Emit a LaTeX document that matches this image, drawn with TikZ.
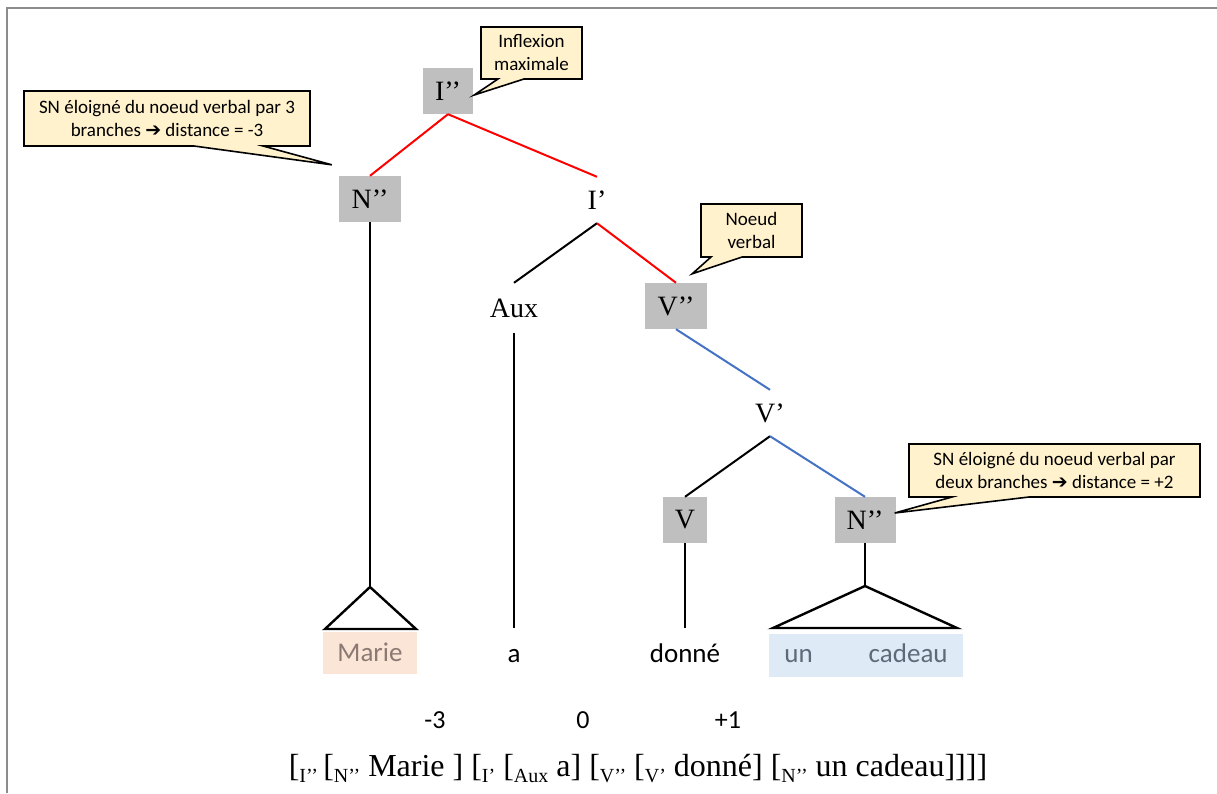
\documentclass[tikz,border=0pt]{standalone}
\usepackage{fontspec}
\setmainfont{Liberation Serif}
\newfontfamily\calfont{Carlito}
\newfontfamily\djvfont{DejaVu Sans}
\usetikzlibrary{calc}
\definecolor{boxgray}{HTML}{BFBFBF}
\definecolor{calfill}{HTML}{FFF2CC}
\definecolor{framecol}{HTML}{8C8C8C}
\definecolor{redline}{HTML}{FF0000}
\definecolor{blueline}{HTML}{4472C4}
\definecolor{peach}{HTML}{FBE5D6}
\definecolor{peachtext}{HTML}{8A7A73}
\definecolor{lightblue}{HTML}{DEEBF7}
\definecolor{bluetext}{HTML}{5E6A78}
\newcommand\subsc[1]{\raisebox{-6pt}{\fontsize{20}{20}\selectfont #1}}
\newcommand\bigarrow{{\djvfont ➔}}
\begin{document}
\begin{tikzpicture}[x=1pt,y=-1pt,
  cat/.style={fill=boxgray, minimum height=46pt, inner sep=0pt, font=\fontsize{28}{30}\selectfont},
  lab/.style={minimum height=46pt, inner sep=0pt, font=\fontsize{28}{30}\selectfont},
  word/.style={minimum height=48pt, inner sep=0pt, text height=20pt, text depth=0pt, font=\calfont\fontsize{27}{29}\selectfont},
  tree/.style={line width=2pt, black},
  redl/.style={line width=2pt, redline},
  bluel/.style={line width=2pt, blueline},
  tri/.style={line width=2.4pt, black, line join=miter},
  callout/.style={fill=calfill, draw=black, line width=1.6pt, line join=miter},
  caltext/.style={font=\calfont\fontsize{19}{23}\selectfont, align=center, inner sep=0pt},
  num/.style={font=\calfont\fontsize{26}{28}\selectfont, anchor=base, inner sep=0pt}
]
\useasboundingbox (0,0) rectangle (1217,793);
\fill[white] (0,0) rectangle (1217,793);
\draw[framecol, line width=1.5pt] (7,793) -- (7,8) -- (1217,8);

% tree nodes
\node[cat, minimum width=50pt] (Ipp) at (448,91) {I’’};
\node[cat, minimum width=62pt] (NppL) at (370,199) {N’’};
\node[lab] (Ip) at (597,200) {I’};
\node[lab, minimum height=50pt] (Aux) at (514,308) {Aux};
\node[cat, minimum width=62pt] (Vpp) at (676,306) {V’’};
\node[lab] (Vp) at (770,413) {V’};
\node[cat, minimum width=44pt] (V) at (685,520) {V};
\node[cat, minimum width=61pt] (NppR) at (865,520) {N’’};

% leaves
\node[word, fill=peach, text=peachtext, minimum width=94pt, minimum height=42pt, text height=17pt] (Marie) at (370,653) {Marie};
\node[word] (a) at (514,652) {a};
\node[word] (donne) at (685,652) {donné};
\node[word, fill=lightblue, text=bluetext, minimum width=194pt, minimum height=43pt, text height=14pt] (cadeau) at (866,655.5) {un\hspace{56pt}cadeau};

\coordinate (apexL) at (370,587);
\coordinate (apexR) at (865,586);

% branches
\draw[redl] (Ipp.south) -- (NppL.north);
\draw[redl] (Ipp.south) -- (Ip.north);
\draw[tree] (Ip.south) -- (Aux.north);
\draw[redl] (Ip.south) -- (Vpp.north);
\draw[bluel] (Vpp.south) -- (Vp.north);
\draw[tree] (Vp.south) -- (V.north);
\draw[bluel] (Vp.south) -- (NppR.north);
\draw[tree] (NppL.south) -- (apexL);
\draw[tree] (Aux.south) -- (a.north);
\draw[tree] (V.south) -- (donne.north);
\draw[tree] (NppR.south) -- (apexR);
\draw[tri] (apexL) -- (325,629) -- (416,629) -- cycle;
\draw[tri] (apexR) -- (773,628) -- (957,628) -- cycle;

% callouts
\draw[callout] (481,27) -- (582,27) -- (582,79) -- (524,79) -- ($(Ipp.east)+(1,4)$) -- (498,79) -- (481,79) -- cycle;
\node[caltext] (c1) at (531.5,53) {Inflexion\\maximale};

\draw[callout] (24,91) -- (310,91) -- (310,146) -- (263,146) -- ($(NppL.north west)+(-7,-11)$) -- (194,146) -- (24,146) -- cycle;
\node[caltext] (c2) at (167,118.5) {SN éloigné du noeud verbal par 3\\branches \bigarrow{} distance = -3};

\draw[callout] (701,204) -- (802,204) -- (802,257) -- (742,257) -- ($(Vpp.north east)+(-15,-9)$) -- (711,257) -- (701,257) -- cycle;
\node[caltext] (c3) at (751.5,230.5) {Noeud\\verbal};

\draw[callout] (909,444) -- (1200,444) -- (1200,497) -- (1029,497) -- ($(NppR.east)+(-1,-7)$) -- (952,497) -- (909,497) -- cycle;
\node[caltext] (c4) at (1054.5,470.5) {SN éloigné du noeud verbal par\\deux branches \bigarrow{} distance = +2};

% distances
\node[num] (d1) at (435,728) {-3};
\node[num] (d2) at (583,728) {0};
\node[num] (d3) at (728,728) {+1};

% bracketed string
\node[anchor=base, inner sep=0pt, font=\fontsize{32}{34}\selectfont] (brk) at (638,776)
 {[\subsc{I’’}\,[\subsc{N’’} Marie ] [\subsc{I’} [\subsc{Aux} a] [\subsc{V’’} [\subsc{V’} donné] [\subsc{N’’} un cadeau]]]]};
\end{tikzpicture}
\end{document}
